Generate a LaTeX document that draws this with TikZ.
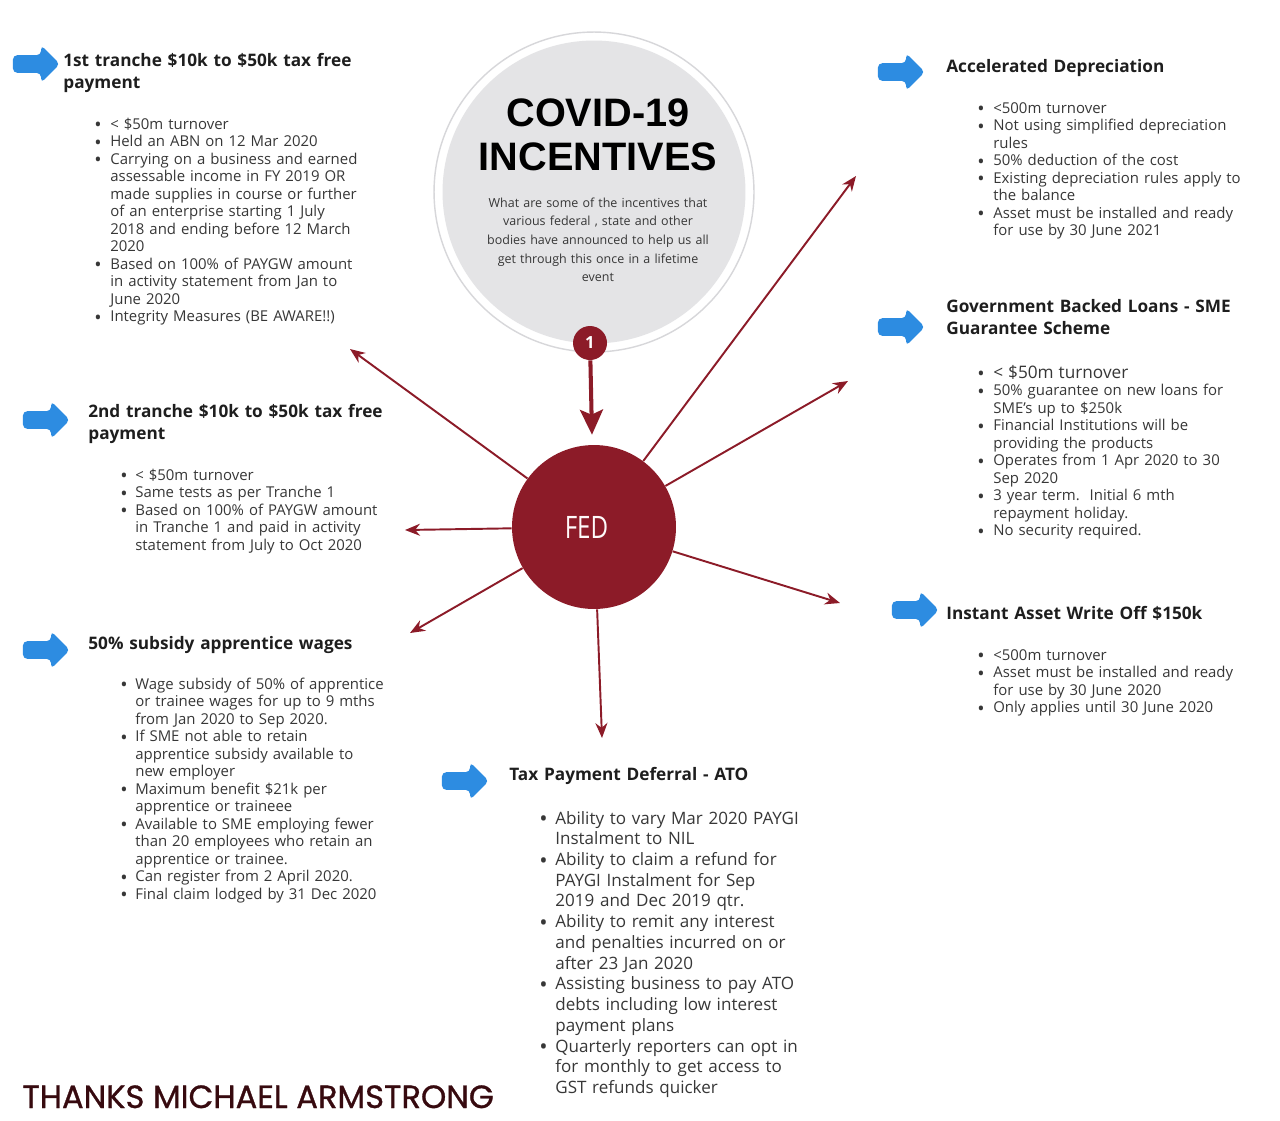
\documentclass[tikz,border=0pt]{standalone}
\usepackage{fontspec}
\setmainfont{Open Sans}
\newfontfamily\titlefont{Liberation Sans}
\newfontfamily\thanksfont{Poppins}[FakeBold=0.9]
\usepackage{tikz}
\usetikzlibrary{shapes.arrows, arrows.meta, positioning, calc}
\definecolor{fedred}{RGB}{140,27,40}
\definecolor{arrblue}{RGB}{45,140,225}
\definecolor{ringgray}{RGB}{228,228,230}
\definecolor{ringline}{RGB}{215,215,218}
\definecolor{txtgray}{RGB}{55,55,55}
\definecolor{headdark}{RGB}{30,30,30}
\definecolor{thanksred}{RGB}{55,10,15}
\newlength\bulind
\setlength\bulind{0.3cm}
\newcommand\nl{\hfil\break}
\newcommand\bul[1]{\hangindent=\bulind\hangafter=1\makebox[\bulind][l]{\raisebox{-0.17em}{\scalebox{1.3}{\textbullet}}}#1\par}

\begin{document}
\begin{tikzpicture}[x=0.02cm, y=-0.02cm,
  head/.style={anchor=base west, inner sep=0pt, text width=8cm, text=headdark, font=\bfseries\fontsize{9.8}{13}\selectfont},
  pts/.style={anchor=base west, inner sep=0pt, text width=7cm, text=txtgray, font=\fontsize{8.5}{9.96}\selectfont},
  bluearr/.style={single arrow, fill=arrblue, minimum height=0.94cm, inner xsep=0pt, inner ysep=0.17cm, single arrow head extend=0.2cm, rounded corners=2.5pt},
  arr/.style={-{Stealth[length=3mm, width=2.4mm]}, line width=1.1pt, draw=fedred},
  bigarr/.style={-{Stealth[length=5mm, width=4.6mm, inset=1mm]}, line width=2.3pt, draw=fedred}
]
\useasboundingbox[fill=white] (0,0) rectangle (1280,1120);

\node[circle, draw=ringline, line width=0.8pt, minimum size=6.4cm, inner sep=0pt] (covid) at (594,192) {};
\node[circle, fill=ringgray, minimum size=6.06cm, inner sep=0pt] (covidfill) at (594,192) {};
\node[anchor=base, inner sep=0pt, text width=6cm, align=center, text=black, font=\titlefont\bfseries\fontsize{22.6}{25.6}\selectfont] (title) at (598,126) {COVID-19\\INCENTIVES};
\node[anchor=base, inner sep=0pt, text width=5cm, align=center, text=txtgray, font=\fontsize{7.1}{10.66}\selectfont] (subtitle) at (598,207) {What are some of the incentives that\\various federal , state and other\\bodies have announced to help us all\\get through this once in a lifetime\\event};

\node[circle, fill=fedred, minimum size=3.28cm, inner sep=0pt, text=white!92!pink, font=\fontsize{17.6}{18}\selectfont] (fed) at (594,527) {\hspace*{-0.3cm}\scalebox{0.78}[1]{FED}};
\node[circle, fill=fedred, minimum size=0.68cm, inner sep=0pt, text=white, font=\bfseries\fontsize{9.5}{10}\selectfont] (badge) at (590,343) {1};
\draw[bigarr, shorten >=0.2cm] (badge) -- (fed);

\coordinate (t1) at (350,349);
\coordinate (t2) at (856,176);
\coordinate (t3) at (848,381);
\coordinate (t4) at (405,530);
\coordinate (t5) at (410,633);
\coordinate (t6) at (840,603);
\coordinate (t7) at (602,738);
\draw[arr] (fed) -- (t1);
\draw[arr] (fed) -- (t2);
\draw[arr] (fed) -- (t3);
\draw[arr] (fed) -- (t4);
\draw[arr] (fed) -- (t5);
\draw[arr] (fed) -- (t6);
\draw[arr] (fed) -- (t7);

\node[bluearr] (b1) at (32,64) {};
\node[bluearr] (b2) at (42,420) {};
\node[bluearr] (b3) at (42,650) {};
\node[bluearr] (b4) at (461,781) {};
\node[bluearr] (b5) at (897,72) {};
\node[bluearr] (b6) at (897,327) {};
\node[bluearr] (b7) at (911,610) {};

\node[head] (tranche1head) at (63,66) {1st tranche \$10k to \$50k tax free\\payment};
\node[pts, execute at begin node={\setlength\bulind{0.32cm}}] (tranche1pts) at (94,129) {%
\bul{< \$50m turnover}%
\bul{Held an ABN on 12 Mar 2020}%
\bul{Carrying on a business and earned\nl assessable income in FY 2019 OR\nl made supplies in course or further\nl of an enterprise starting 1 July\nl 2018 and ending before 12 March\nl 2020}%
\bul{Based on 100\% of PAYGW amount\nl in activity statement from Jan to\nl June 2020}%
\bul{Integrity Measures (BE AWARE!!)}};

\node[head] (tranche2head) at (88,417) {2nd tranche \$10k to \$50k tax free\\payment};
\node[pts, execute at begin node={\setlength\bulind{0.3cm}}] (tranche2pts) at (120,480) {%
\bul{< \$50m turnover}%
\bul{Same tests as per Tranche 1}%
\bul{Based on 100\% of PAYGW amount\nl in Tranche 1 and paid in activity\nl statement from July to Oct 2020}};

\node[head] (apprenthead) at (88,649) {50\% subsidy apprentice wages};
\node[pts, execute at begin node={\setlength\bulind{0.3cm}}] (apprentpts) at (120,689) {%
\bul{Wage subsidy of 50\% of apprentice\nl or trainee wages for up to 9 mths\nl from Jan 2020 to Sep 2020.}%
\bul{If SME not able to retain\nl apprentice subsidy available to\nl new employer}%
\bul{Maximum benefit \$21k per\nl apprentice or traineee}%
\bul{Available to SME employing fewer\nl than 20 employees who retain an\nl apprentice or trainee.}%
\bul{Can register from 2 April 2020.}%
\bul{Final claim lodged by 31 Dec 2020}};

\node[head] (taxdefhead) at (509,780) {Tax Payment Deferral - ATO};
\node[pts, font=\fontsize{9.7}{11.8}\selectfont, execute at begin node={\setlength\bulind{0.32cm}}] (taxdefpts) at (539,824) {%
\bul{Ability to vary Mar 2020 PAYGI\nl Instalment to NIL}%
\bul{Ability to claim a refund for\nl PAYGI Instalment for Sep\nl 2019 and Dec 2019 qtr.}%
\bul{Ability to remit any interest\nl and penalties incurred on or\nl after 23 Jan 2020}%
\bul{Assisting business to pay ATO\nl debts including low interest\nl payment plans}%
\bul{Quarterly reporters can opt in\nl for monthly to get access to\nl GST refunds quicker}};

\node[head] (accelhead) at (946,72) {Accelerated Depreciation};
\node[pts, execute at begin node={\setlength\bulind{0.32cm}}] (accelpts) at (977,113) {%
\bul{<500m turnover}%
\bul{Not using simplified depreciation\nl rules}%
\bul{50\% deduction of the cost}%
\bul{Existing depreciation rules apply to\nl the balance}%
\bul{Asset must be installed and ready\nl for use by 30 June 2021}};

\node[head] (loanshead) at (946,312) {Government Backed Loans - SME\\Guarantee Scheme};
\node[pts, execute at begin node={\setlength\bulind{0.32cm}}] (loanspts) at (977,378) {%
\bul{{\fontsize{9.8}{11}\selectfont < \$50m turnover}}%
\bul{50\% guarantee on new loans for\nl SME's up to \$250k}%
\bul{Financial Institutions will be\nl providing the products}%
\bul{Operates from 1 Apr 2020 to 30\nl Sep 2020}%
\bul{3 year term.\ \ Initial 6 mth\nl repayment holiday.}%
\bul{No security required.}};

\node[head] (writeoffhead) at (946,619) {Instant Asset Write Off \$150k};
\node[pts, execute at begin node={\setlength\bulind{0.32cm}}] (writeoffpts) at (977,660) {%
\bul{<500m turnover}%
\bul{Asset must be installed and ready\nl for use by 30 June 2020}%
\bul{Only applies until 30 June 2020}};

\node[anchor=base west, inner sep=0pt, text=thanksred, font=\thanksfont\fontsize{18.3}{19}\selectfont] (thanks) at (22,1108) {THANKS MICHAEL ARMSTRONG};
\end{tikzpicture}
\end{document}
